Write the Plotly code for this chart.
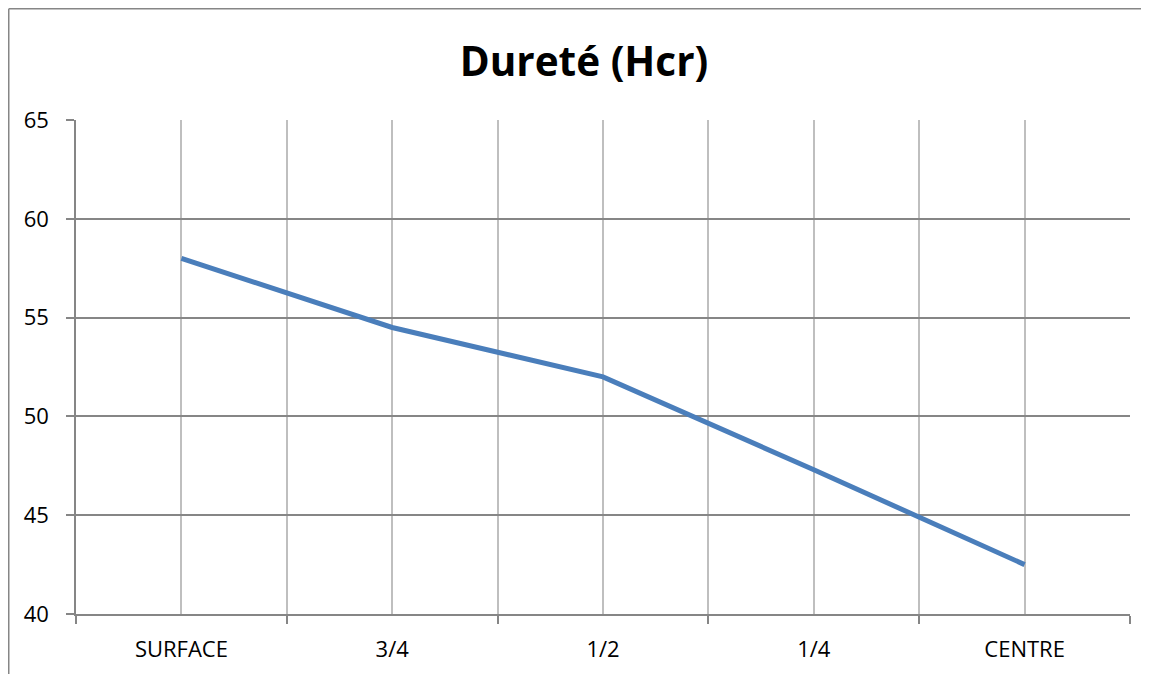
import plotly.graph_objects as go

categories = ["SURFACE", "3/4", "1/2", "1/4", "CENTRE"]
durete = [58, 54.5, 52, 47.3, 42.5]
y_ticks = [40, 45, 50, 55, 60, 65]
title_text = "Dureté (Hcr)"

x_pos = list(range(len(categories)))

# page has an 8px body margin; figure coords = page coords - 8
OFF = 8
W, H = 1149 - OFF, 674 - OFF
L, T = 76 - OFF, 120 - OFF
R = W - (1130 - OFF)
B = H - (614 - OFF)
pw, ph = W - L - R, H - T - B

def px_x(p):
    return (p - L) / pw

def px_y(p):
    return 1 - (p - T) / ph

fig = go.Figure()
fig.add_trace(go.Scatter(
    x=x_pos, y=durete, mode="lines",
    line=dict(color="#4a7ebb", width=5),
    showlegend=False, hoverinfo="skip",
))

fig.update_layout(
    width=W, height=H,
    margin=dict(l=L, r=R, t=T, b=B),
    paper_bgcolor="white", plot_bgcolor="white",
    title=dict(text="<b>" + title_text + "</b>", x=(584 - OFF) / W, xanchor="center",
               y=1 - (62 - OFF) / H, yanchor="middle",
               font=dict(family="Open Sans", size=40.5, color="black")),
    font=dict(family="Open Sans", color="black"),
    shapes=[
        dict(type="line", xref="paper", yref="paper",
             x0=px_x(0.75), x1=px_x(0.75), y0=px_y(H + 5), y1=px_y(0.75),
             line=dict(color="#868686", width=1.5)),
        dict(type="line", xref="paper", yref="paper",
             x0=px_x(0.75), x1=px_x(W + 5), y0=px_y(0.75), y1=px_y(0.75),
             line=dict(color="#868686", width=1.5)),
    ],
)

fig.update_xaxes(
    range=[-0.5, len(categories) - 0.5],
    tickvals=x_pos, ticktext=categories,
    ticks="", showgrid=True, gridcolor="#bfbfbf", gridwidth=1.6,
    tickfont=dict(family="Open Sans", size=22, color="black"),
    showline=True, linecolor="#868686", linewidth=1.6,
    zeroline=False, ticklabelstandoff=15,
    minor=dict(tick0=-0.5, dtick=1, ticks="outside", ticklen=8,
               tickcolor="#868686", tickwidth=1.6,
               showgrid=True, gridcolor="#bfbfbf", gridwidth=1.6),
)

fig.update_yaxes(
    range=[40, 65], tickvals=y_ticks,
    ticks="outside", ticklen=8, tickcolor="#868686", tickwidth=1.6,
    showgrid=True, gridcolor="#868686", gridwidth=1.6,
    tickfont=dict(family="Open Sans", size=22, color="black"),
    showline=True, linecolor="#868686", linewidth=1.6,
    zeroline=False, ticklabelstandoff=13,
)

fig.write_html("out.html")
